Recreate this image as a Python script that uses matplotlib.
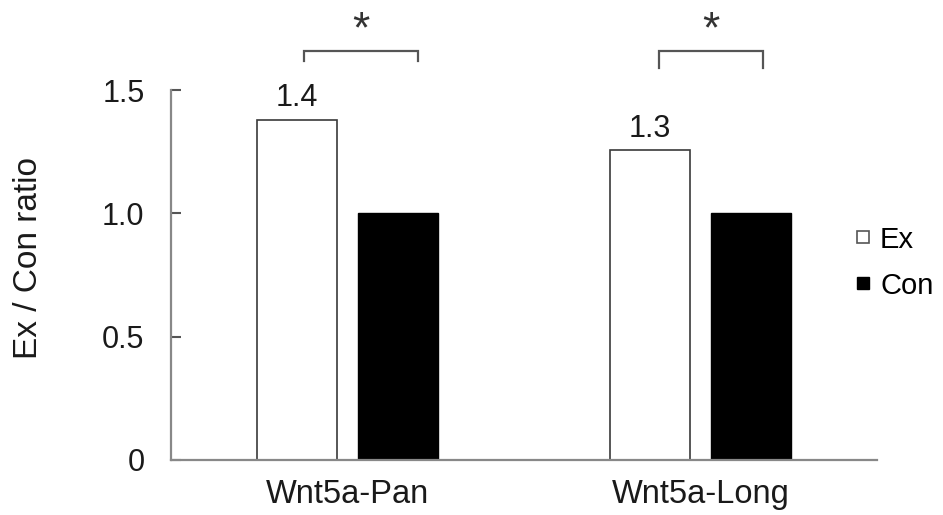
import matplotlib.pyplot as plt
from matplotlib.lines import Line2D

# expression ratios per transcript
genes = ["Wnt5a-Pan", "Wnt5a-Long"]
ex_vals = [1.38, 1.257]
con_vals = [1.0, 1.0]
ex_labels = ["1.4", "1.3"]
y_ticks = [0, 0.5, 1.0, 1.5]
y_tick_labels = ["0", "0.5", "1.0", "1.5"]

plt.rcParams['font.family'] = ['Liberation Sans', 'DejaVu Sans']

fig = plt.figure(figsize=(9.43, 5.15), dpi=100)
ax = fig.add_axes([0.1813, 0.1068, 0.7487, 0.7184])

x = list(range(len(genes)))
w = 0.227
off = 0.143
edge = "#3a3a3a"
ax.bar([i - off for i in x], ex_vals, width=w, color="white", edgecolor=edge, linewidth=1.2)
ax.bar([i + off for i in x], con_vals, width=w, color="black", edgecolor="black", linewidth=1.0)

# value labels above the Ex bars
for i, v, lab in zip(x, ex_vals, ex_labels):
    ax.annotate(lab, (i - off, v), xytext=(0, 9.5), textcoords="offset points",
                ha="center", va="baseline", fontsize=22, color="#1a1a1a")

# significance brackets
brackets = [(-0.122, 0.201, 1.658, 1.617), (-0.119, 0.176, 1.658, 1.589)]
for i, (x0, x1, ytop, ybot) in zip(x, brackets):
    ax.plot([i + x0, i + x0, i + x1, i + x1], [ybot, ytop, ytop, ybot],
            color="#555555", lw=1.6, clip_on=False, solid_joinstyle="miter")
    ax.text(i + (x0 + x1) / 2, 1.695, "*", ha="center", va="baseline",
            fontsize=32, color="#333333", clip_on=False)

ax.set_xlim(-0.4986, 1.4986)
ax.set_ylim(0, 1.5)
ax.set_yticks(y_ticks)
ax.set_yticklabels(y_tick_labels)
ax.set_xticks(x)
ax.set_xticklabels(genes)
ax.tick_params(axis="y", direction="in", length=7, width=1.5, color="#555555",
               labelsize=22, pad=19, labelcolor="#1a1a1a")
ax.tick_params(axis="x", length=0, labelsize=23.5, pad=14, labelcolor="#1a1a1a")

for s in ["top", "right"]:
    ax.spines[s].set_visible(False)
for s in ["left", "bottom"]:
    ax.spines[s].set_color("#888888")
    ax.spines[s].set_linewidth(1.6)

fig.text(0.03, 0.499, "Ex / Con ratio", rotation=90, ha="center", va="center",
         fontsize=24, color="#1a1a1a")

handles = [
    Line2D([], [], marker="s", linestyle="none", markersize=8,
           markerfacecolor="white", markeredgecolor="#555555", markeredgewidth=1.2),
    Line2D([], [], marker="s", linestyle="none", markersize=8,
           markerfacecolor="black", markeredgecolor="black"),
]
fig.legend(handles, ["Ex", "Con"], loc="center left", bbox_to_anchor=(0.907, 0.49),
           frameon=False, fontsize=21, handlelength=0.5, handletextpad=0.35,
           labelspacing=0.62, borderaxespad=0, borderpad=0)

fig.savefig("out.png", dpi=100)
